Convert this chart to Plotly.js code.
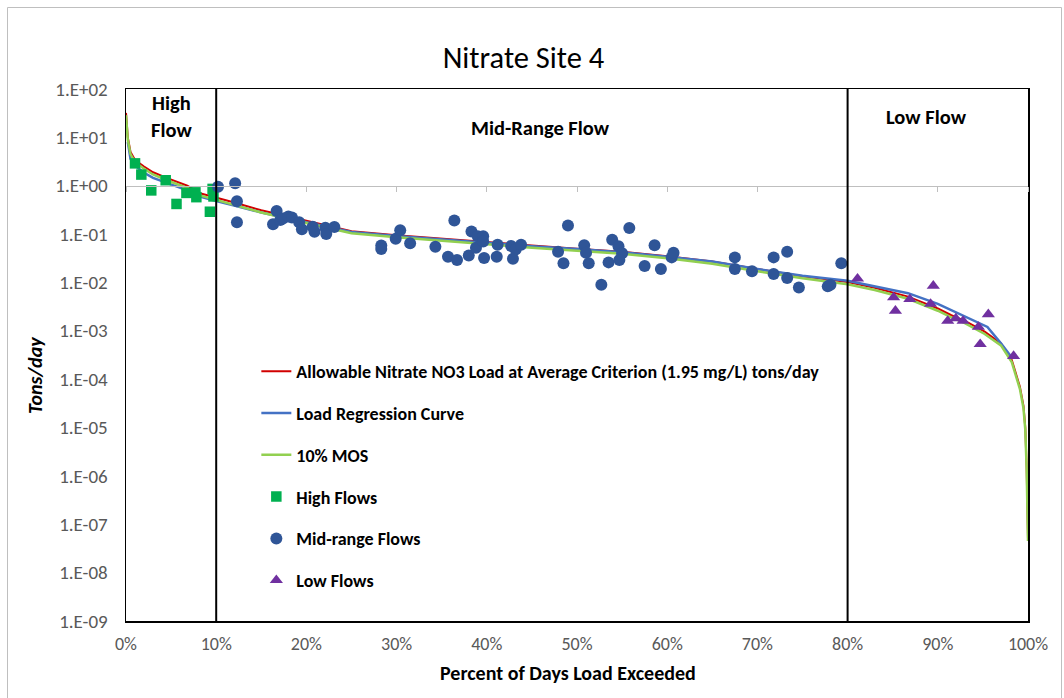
<!DOCTYPE html>
<html>
<head>
<meta charset="utf-8">
<script src="https://cdn.plot.ly/plotly-3.0.1.min.js"></script>
<style>
  html, body { margin: 0; padding: 0; background: #ffffff; }
  #chart { width: 1064px; height: 698px; }
</style>
</head>
<body>
<div id="chart"></div>
<script>
// Load duration curve, Nitrate Site 4 (percent of days exceeded vs tons/day)

// Allowable load at the 1.95 mg/L criterion
const allowPct = [0, 0.2, 0.5, 1, 2, 3, 4.5, 6, 6.8, 8.2, 10, 12, 15, 20, 25, 30, 35, 40, 45, 50,
                  55, 60, 65, 70, 75, 80, 83, 86.7, 90, 91.5, 93, 95.2, 97, 98.2, 99.1, 99.5, 99.7, 99.85, 99.95, 100];
const allowLoad = [32, 10, 5, 3.4, 2.5, 1.9, 1.45, 1.12, 1.0, 0.7, 0.57, 0.45, 0.31, 0.19, 0.115, 0.095, 0.08, 0.068, 0.058, 0.05,
                   0.043, 0.035, 0.027, 0.019, 0.0135, 0.0102, 0.0078, 0.0051, 0.0029, 0.0021, 0.0016, 0.00096, 0.00055, 0.00025, 0.00007, 0.000028, 0.00001, 0.0000015, 0.0000002, 0.00000005];

// 10% margin of safety curve
const mosPct = allowPct;
const mosLoad = [28.8, 9, 4.5, 3.06, 2.25, 1.71, 1.3, 1.0, 0.9, 0.63, 0.51, 0.4, 0.28, 0.17, 0.104, 0.086, 0.072, 0.061, 0.052, 0.045,
                 0.039, 0.0315, 0.0243, 0.0171, 0.0122, 0.0092, 0.007, 0.0046, 0.0026, 0.0019, 0.00144, 0.00086, 0.0005, 0.000225, 0.000063, 0.000025, 0.000009, 0.0000014, 0.00000018, 0.000000045];

// Load regression curve
const regPct = [0.2, 0.5, 1, 2, 3, 4.5, 6.8, 8.2, 10, 12, 15, 20, 25, 30, 35, 40, 45, 50, 55, 60,
                65, 70, 75, 80, 83, 86.7, 90, 93, 95.5, 97, 98.2];
const regLoad = [8, 3.6, 2.6, 1.85, 1.45, 1.15, 0.8, 0.6, 0.48, 0.39, 0.28, 0.175, 0.11, 0.091, 0.077, 0.066, 0.056, 0.049, 0.042, 0.034,
                 0.027, 0.019, 0.0138, 0.0108, 0.0084, 0.006, 0.0036, 0.002, 0.0012, 0.00055, 0.00028];

// Observed loads by flow regime
const highPct = [1.0, 1.7, 2.8, 4.4, 5.6, 6.7, 7.7, 7.8, 9.3, 9.6, 9.7];
const highLoad = [2.9, 1.7, 0.8, 1.3, 0.42, 0.71, 0.73, 0.58, 0.29, 0.86, 0.6];

const midPct = [10.2, 12.1, 12.3, 12.3, 16.7, 16.3, 17.1, 17.4, 18.0, 18.4, 19.2, 19.5, 20.7, 20.9, 22.1, 22.2, 23.1,
                28.3, 28.3, 29.9, 30.4, 31.5, 34.3, 36.4, 35.7, 36.7, 38.0, 38.3, 38.8, 39.0, 39.6, 39.6, 39.7,
                41.2, 41.1, 42.7, 43.2, 43.8, 42.9, 47.9, 48.5, 49.0, 50.8, 51.0, 51.3, 52.7, 53.5, 53.9, 54.6,
                55.0, 54.7, 55.8, 57.5, 58.6, 59.3, 60.5, 60.7, 67.5, 67.5, 69.4, 71.8, 71.8, 73.3, 73.3, 74.6,
                77.8, 78.1, 79.3];
const midLoad = [0.95, 1.12, 0.48, 0.175, 0.30, 0.16, 0.195, 0.21, 0.23, 0.22, 0.175, 0.126, 0.142, 0.112, 0.135, 0.10, 0.14,
                 0.058, 0.049, 0.08, 0.12, 0.065, 0.055, 0.19, 0.034, 0.029, 0.036, 0.113, 0.052, 0.09, 0.09, 0.07, 0.032,
                 0.06, 0.034, 0.057, 0.048, 0.06, 0.031, 0.043, 0.025, 0.15, 0.059, 0.041, 0.025, 0.009, 0.026, 0.076, 0.056,
                 0.040, 0.029, 0.133, 0.022, 0.059, 0.019, 0.033, 0.041, 0.033, 0.019, 0.017, 0.033, 0.015, 0.043, 0.0123, 0.0079,
                 0.0083, 0.009, 0.025];

const lowPct = [81.1, 85.1, 85.3, 86.9, 89.5, 89.2, 91.1, 92.0, 92.8, 95.6, 94.5, 94.7, 98.4];
const lowLoad = [0.012, 0.0049, 0.0026, 0.0045, 0.0085, 0.0036, 0.0016, 0.0018, 0.0016, 0.0022, 0.0012, 0.00053, 0.00030];

// Axis ticks and flow-regime breaks
const yTickVals = [1e-9, 1e-8, 1e-7, 1e-6, 1e-5, 1e-4, 1e-3, 1e-2, 1e-1, 1e0, 1e1, 1e2];
const yTickText = ['1.E-09', '1.E-08', '1.E-07', '1.E-06', '1.E-05', '1.E-04', '1.E-03', '1.E-02', '1.E-01', '1.E+00', '1.E+01', '1.E+02'];
const regimeBreaks = [10, 80];
const regimeLabels = ['High<br>Flow', 'Mid-Range Flow', 'Low Flow'];
const regimeCenters = [5, 45.9, 88.8];

const FONT = 'Carlito, Calibri, Lato, "Liberation Sans", sans-serif';

const traces = [
  { x: allowPct, y: allowLoad, mode: 'lines', name: 'Allowable Nitrate NO3 Load at Average Criterion (1.95 mg/L) tons/day',
    line: { color: '#d10000', width: 2 }, legendgroup: 'a' },
  { x: regPct, y: regLoad, mode: 'lines', name: 'Load Regression Curve',
    line: { color: '#4472c4', width: 2.5 }, legendgroup: 'b' },
  { x: mosPct, y: mosLoad, mode: 'lines', name: '10% MOS',
    line: { color: '#92d050', width: 2.5 }, legendgroup: 'c' },
  { x: highPct, y: highLoad, mode: 'markers', name: 'High Flows',
    marker: { symbol: 'square', size: 10.5, color: '#00b050' }, legendgroup: 'd' },
  { x: midPct, y: midLoad, mode: 'markers', name: 'Mid-range Flows',
    marker: { symbol: 'circle', size: 12, color: '#2f5597' }, legendgroup: 'e' },
  { x: lowPct, y: lowLoad, mode: 'markers', name: 'Low Flows',
    marker: { symbol: 'triangle-up', size: 11.5, color: '#7030a0' }, legendgroup: 'f' },
  // carrier for the secondary axis drawn across at 1 ton/day
  { x: [], y: [], xaxis: 'x2', yaxis: 'y', showlegend: false, hoverinfo: 'skip' }
];

const shapes = regimeBreaks.map(p => ({
  type: 'line', xref: 'x', yref: 'paper', x0: p, x1: p, y0: 0, y1: 1,
  line: { color: '#000000', width: 2 }
}));
// outer chart border
shapes.push({
  type: 'rect', xref: 'paper', yref: 'paper',
  x0: -118.5 / 902, x1: 1 + 33.5 / 902, y0: -82 / 532, y1: 1 + 81.5 / 532,
  line: { color: '#bfbfbf', width: 1 }, fillcolor: 'rgba(0,0,0,0)', layer: 'below'
});

const annotations = regimeLabels.map((t, i) => ({
  text: '<b>' + t + '</b>', x: regimeCenters[i], xref: 'x', yref: 'paper',
  y: i === 1 ? 1 - (128 - 89) / 532 : 1 - (117 - 89) / 532,
  xanchor: 'center', yanchor: 'middle', showarrow: false,
  font: { family: FONT, size: 20.5, color: '#000000', lineposition: 'none' }
}));
annotations.push({
  text: '<b>Percent of Days Load Exceeded</b>', xref: 'paper', yref: 'paper',
  x: (568 - 126) / 902, y: -(673 - 621) / 532, xanchor: 'center', yanchor: 'middle',
  showarrow: false, font: { family: FONT, size: 20, color: '#000000' }
});
annotations.push({
  text: '<b><i>Tons/day</i></b>', xref: 'paper', yref: 'paper',
  x: (35 - 126) / 902, y: 1 - (376 - 89) / 532, xanchor: 'center', yanchor: 'middle',
  textangle: -90, showarrow: false, font: { family: FONT, size: 20, color: '#000000' }
});

const layout = {
  width: 1064, height: 698,
  margin: { l: 126, r: 36, t: 89, b: 77 },
  paper_bgcolor: '#ffffff', plot_bgcolor: '#ffffff',
  font: { family: FONT, color: '#595959' },
  title: {
    text: 'Nitrate Site 4', xref: 'container', x: 0.492, y: 1 - 57 / 698,
    xanchor: 'center', yanchor: 'middle',
    font: { family: FONT, size: 30.5, color: '#000000' }
  },
  showlegend: true,
  legend: {
    x: 0.1445, y: 1 - (353 - 89) / 532, xanchor: 'left', yanchor: 'top',
    bgcolor: 'rgba(0,0,0,0)', borderwidth: 0,
    traceorder: 'grouped', tracegroupgap: 15.4, itemwidth: 30,
    font: { family: FONT, size: 18, color: '#000000', weight: 'bold' }
  },
  xaxis: {
    range: [0, 100], dtick: 10, tick0: 0, ticksuffix: '%',
    showgrid: false, zeroline: false, showline: true, mirror: true,
    linecolor: '#000000', linewidth: 1.5, ticks: '',
    ticklabelstandoff: 6,
    tickfont: { family: FONT, size: 18, color: '#595959' }
  },
  xaxis2: {
    overlaying: 'x', anchor: 'free', position: 9 / 11, side: 'bottom',
    range: [0, 100], dtick: 10, tick0: 0,
    showgrid: false, zeroline: false, showline: true, linecolor: '#bfbfbf', linewidth: 1,
    ticks: 'outside', ticklen: 5, tickcolor: '#bfbfbf', showticklabels: false
  },
  yaxis: {
    type: 'log', range: [-9, 2],
    tickvals: yTickVals, ticktext: yTickText,
    showgrid: false, zeroline: false, showline: true, mirror: true,
    linecolor: '#000000', linewidth: 1.5, ticks: '',
    ticklabelstandoff: 13,
    tickfont: { family: FONT, size: 19, color: '#595959' }
  },
  shapes: shapes,
  annotations: annotations
};

Plotly.newPlot('chart', traces, layout, { displayModeBar: false, staticPlot: true });
</script>
</body>
</html>
